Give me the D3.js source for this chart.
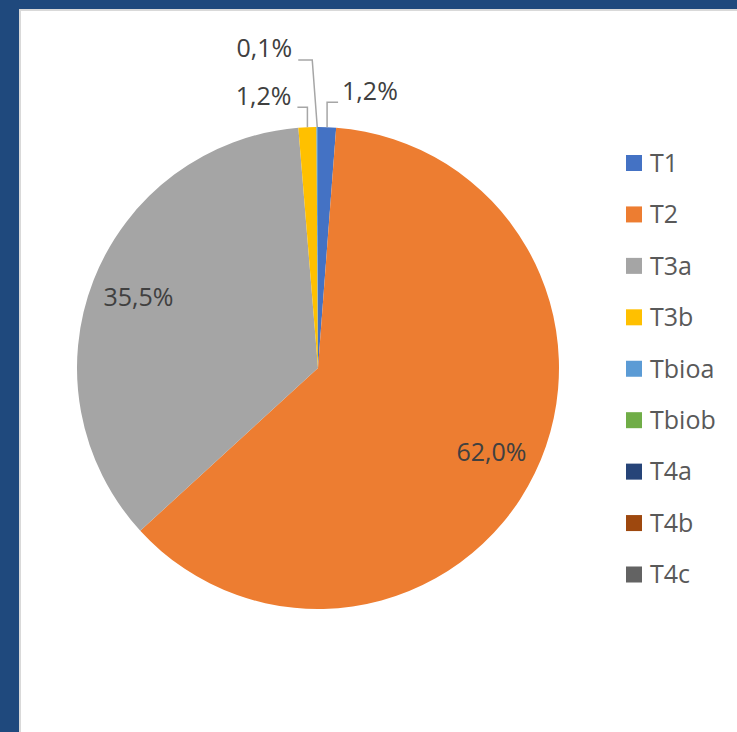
<!DOCTYPE html>
<html>
<head>
<meta charset="utf-8">
<script src="https://cdn.jsdelivr.net/npm/d3@7"></script>
<style>
  html, body { margin: 0; padding: 0; background: #1F497D; overflow: hidden; }
  svg { display: block; }
</style>
</head>
<body>
<svg id="chart" width="737" height="732"></svg>
<script>
const categories = ['T1', 'T2', 'T3a', 'T3b', 'Tbioa', 'Tbiob', 'T4a', 'T4b', 'T4c'];
const shares = [1.2, 62.0, 35.5, 1.2, 0.1, 0, 0, 0, 0];
const colors = ['#4472C4', '#ED7D31', '#A5A5A5', '#FFC000', '#5B9BD5', '#70AD47', '#264478', '#9E480E', '#636363'];

// callouts for the thin slices: elbow offset from the rim, then a short run sideways
const callouts = {
    T1: {elbow: [0, -25], run: 11},
    T3b: {elbow: [0, -20], run: -10},
    Tbioa: {elbow: [-5, -67], run: -14}
};

const svg = d3.select('#chart');
const width = +svg.attr('width');
const height = +svg.attr('height');
const font = '"Open Sans", "Liberation Sans", sans-serif';

// white chart panel with its thin grey edge
svg.append('rect')
    .attr('x', 20).attr('y', 10)
    .attr('width', width).attr('height', height)
    .attr('fill', '#fff')
    .attr('stroke', '#d9d9d9')
    .attr('stroke-width', 2);

const cx = 318, cy = 368, radius = 241;
const data = categories.map((c, i) => ({cat: c, value: shares[i], color: colors[i]}));

const pie = d3.pie().sort(null).value(d => d.value);
const arcs = pie(data);
const arc = d3.arc().innerRadius(0).outerRadius(radius);

const g = svg.append('g').attr('transform', `translate(${cx},${cy})`);

g.selectAll('path.slice')
    .data(arcs.filter(d => d.data.value > 0))
    .enter()
    .append('path')
    .attr('class', 'slice')
    .attr('d', arc)
    .attr('fill', d => d.data.color);

const fmt = v => v.toFixed(1).replace('.', ',') + '%';
const mid = d => (d.startAngle + d.endAngle) / 2;
const rimPoint = (a, r) => [r * Math.sin(a), -r * Math.cos(a)];

// labels inside the big slices
const inner = arcs.filter(d => d.data.value > 5);
g.selectAll('text.inner')
    .data(inner)
    .enter()
    .append('text')
    .attr('class', 'inner')
    .attr('x', d => rimPoint(mid(d), radius * 0.8)[0])
    .attr('y', d => rimPoint(mid(d), radius * 0.8)[1])
    .attr('text-anchor', 'middle')
    .attr('dy', '0.35em')
    .attr('font-family', font)
    .attr('font-size', 25)
    .attr('fill', '#404040')
    .text(d => fmt(d.data.value));

// callout labels for the thin slices
const outer = arcs.filter(d => d.data.value > 0 && d.data.value <= 5);
outer.forEach(d => {
    const c = callouts[d.data.cat];
    const p0 = rimPoint(mid(d), radius);
    const p1 = [p0[0] + c.elbow[0], p0[1] + c.elbow[1]];
    const p2 = [p1[0] + c.run, p1[1]];
    g.append('path')
        .attr('d', d3.line()([p0, p1, p2]))
        .attr('fill', 'none')
        .attr('stroke', '#A6A6A6')
        .attr('stroke-width', 1.5);
    g.append('text')
        .attr('x', p2[0] + (c.run > 0 ? 4 : -6))
        .attr('y', p2[1])
        .attr('dy', '-0.37em')
        .attr('dominant-baseline', 'middle')
        .attr('text-anchor', c.run > 0 ? 'start' : 'end')
        .attr('font-family', font)
        .attr('font-size', 25)
        .attr('fill', '#404040')
        .text(fmt(d.data.value));
});

// legend
const legendY = d3.scalePoint().domain(categories).range([163, 574.5]);
const legend = svg.append('g')
    .selectAll('g.item')
    .data(data)
    .enter()
    .append('g')
    .attr('class', 'item')
    .attr('transform', d => `translate(626,${legendY(d.cat)})`);
legend.append('rect')
    .attr('x', 0).attr('y', -8)
    .attr('width', 16).attr('height', 16)
    .attr('fill', d => d.color);
legend.append('text')
    .attr('x', 24)
    .attr('y', 0)
    .attr('dy', '0.35em')
    .attr('font-family', font)
    .attr('font-size', 25)
    .attr('fill', '#595959')
    .text(d => d.cat);
</script>
</body>
</html>
